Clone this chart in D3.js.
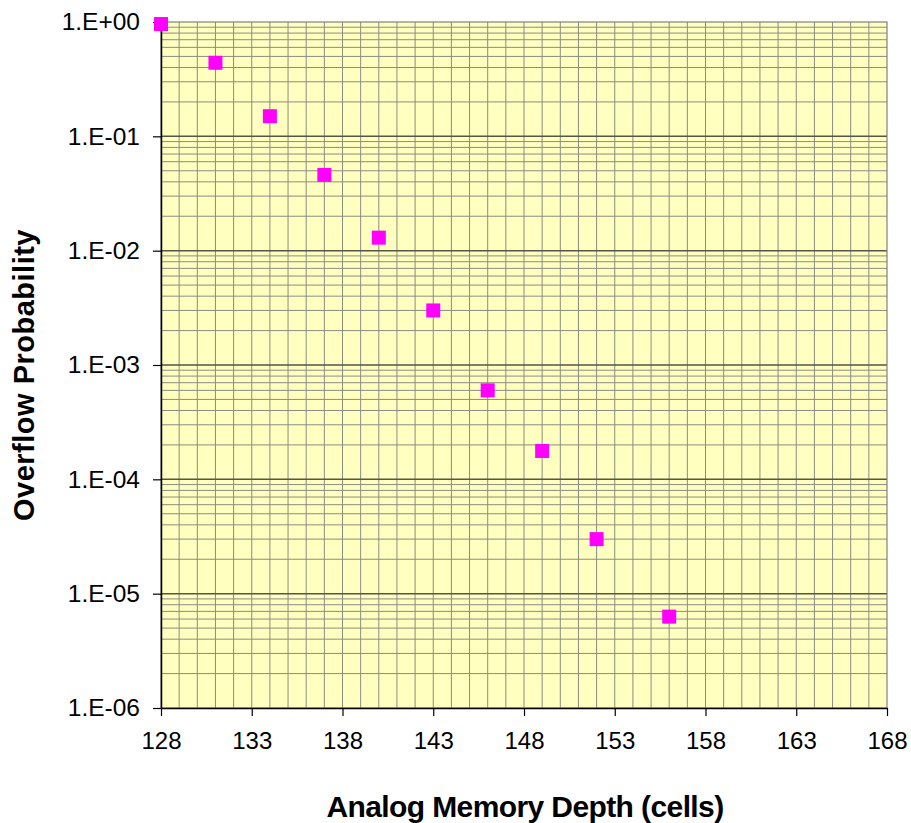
<!DOCTYPE html>
<html><head><meta charset="utf-8">
<script src="https://cdn.jsdelivr.net/npm/d3@7"></script>
<style>body{margin:0;background:#fff;} text{font-family:"Liberation Sans",Arial,sans-serif;}</style>
</head><body>
<svg id="c" width="911" height="823"></svg>
<script>
const depth = [128, 131, 134, 137, 140, 143, 146, 149, 152, 156];
const probability = [0.96, 0.44, 0.15, 0.046, 0.013, 0.0030, 0.00060, 0.000177, 0.000030, 0.0000063];
const xTicks = [128, 133, 138, 143, 148, 153, 158, 163, 168];
const yTicks = [1, 1e-1, 1e-2, 1e-3, 1e-4, 1e-5, 1e-6];
const yTickLabels = ["1.E+00","1.E-01","1.E-02","1.E-03","1.E-04","1.E-05","1.E-06"];

const svg = d3.select("#c");
const L=161, R=887, T=22, B=708;
const x = d3.scaleLinear().domain([128,168]).range([L,R]);
const y = d3.scaleLog().domain([1e-6,1]).range([B,T]);

svg.append("rect").attr("x",L).attr("y",T).attr("width",R-L).attr("height",B-T).attr("fill","#FFFFC0");

const g = svg.append("g");
d3.range(129,168).forEach(v=>{
  g.append("line").attr("x1",x(v)).attr("x2",x(v)).attr("y1",T).attr("y2",B)
   .attr("stroke","#8c8c80").attr("stroke-width",1);
});
for(let e=-6;e<0;e++){
  for(let m=2;m<=9;m++){
    const v=m*Math.pow(10,e);
    g.append("line").attr("x1",L).attr("x2",R).attr("y1",y(v)).attr("y2",y(v))
     .attr("stroke","#8c8c80").attr("stroke-width",1);
  }
}
yTicks.slice(1,6).forEach(v=>{
  g.append("line").attr("x1",L).attr("x2",R).attr("y1",y(v)).attr("y2",y(v))
   .attr("stroke","#555548").attr("stroke-width",1.5);
});
svg.append("rect").attr("x",L).attr("y",T).attr("width",R-L).attr("height",B-T)
  .attr("fill","none").attr("stroke","#808080").attr("stroke-width",1.2);

const yAxis = d3.axisLeft(y).tickValues(yTicks).tickFormat((d,i)=>yTickLabels[i]).tickSize(8).tickSizeOuter(0).tickPadding(13);
const ya = svg.append("g").attr("transform",`translate(${L},0)`).call(yAxis);
const xAxis = d3.axisBottom(x).tickValues(xTicks).tickSize(8).tickSizeOuter(0).tickPadding(16);
const xa = svg.append("g").attr("transform",`translate(0,${B})`).call(xAxis);
[ya,xa].forEach(a=>{
  a.select(".domain").attr("stroke","#000").attr("stroke-width",1.5);
  a.selectAll(".tick line").attr("stroke","#000").attr("stroke-width",1.2);
  a.selectAll(".tick text").attr("fill","#000").attr("font-family","Liberation Sans, Arial, sans-serif");
});
ya.selectAll(".tick text").attr("font-size",24.5);
xa.selectAll(".tick text").attr("font-size",24);

const s=14;
svg.append("g").selectAll("rect.m").data(depth).join("rect")
  .attr("x",(d)=>x(d)-s/2).attr("y",(d,i)=>y(probability[i])-s/2)
  .attr("width",s).attr("height",s).attr("fill","#FF00FF");

svg.append("text").attr("x",525).attr("y",817).attr("text-anchor","middle")
  .attr("font-size",30).attr("font-weight","bold").attr("letter-spacing","-0.6").text("Analog Memory Depth (cells)");
svg.append("text").attr("transform","translate(34,375) rotate(-90)").attr("text-anchor","middle")
  .attr("font-size",29).attr("font-weight","bold").attr("letter-spacing","0.5").text("Overflow Probability");
</script>
</body></html>
